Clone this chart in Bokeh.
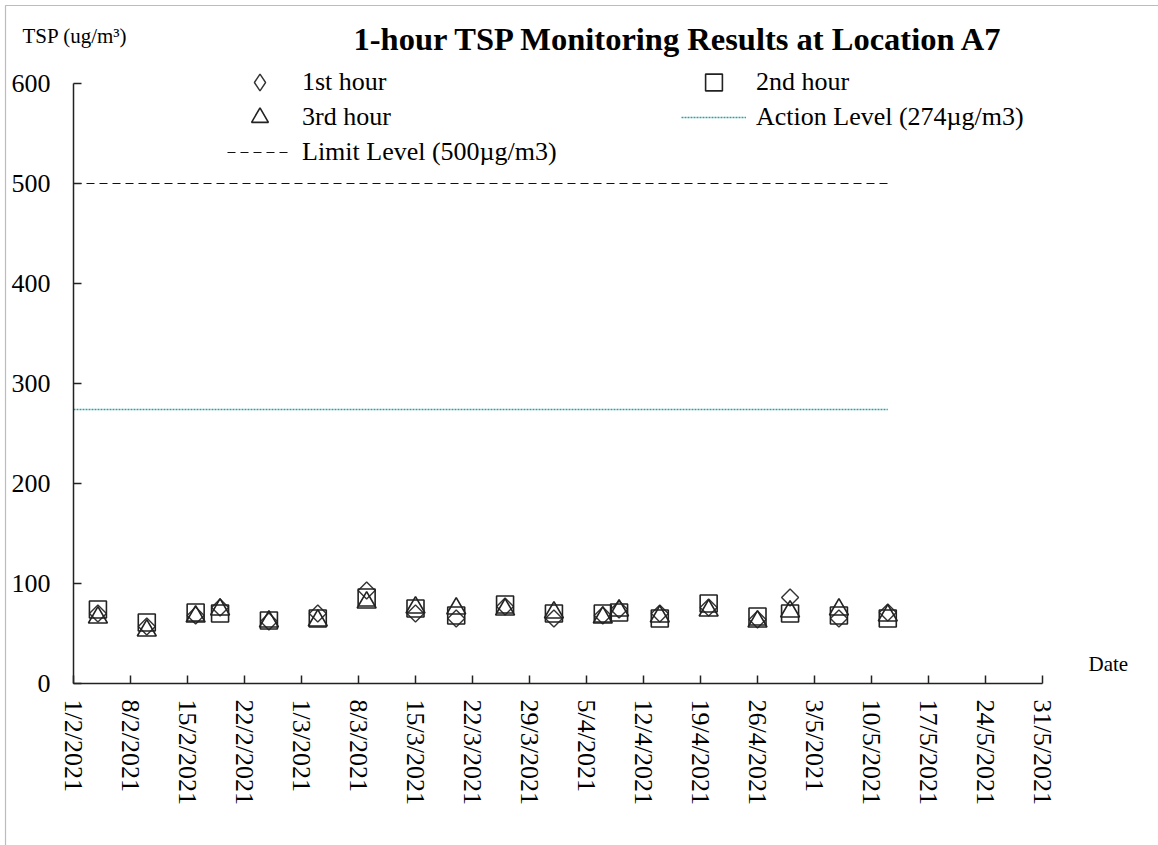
import math
from datetime import datetime, timedelta
from bokeh.plotting import figure
from bokeh.models import (Range1d, FixedTicker, DatetimeTickFormatter, Legend, LegendItem,
                          Label, ColumnDataSource, BoxAnnotation)
from bokeh.embed import file_html
from bokeh.resources import INLINE

# ---- data ----
dates = ["2021-02-04", "2021-02-10", "2021-02-16", "2021-02-19", "2021-02-25",
         "2021-03-03", "2021-03-09", "2021-03-15", "2021-03-20", "2021-03-26",
         "2021-04-01", "2021-04-07", "2021-04-09", "2021-04-14", "2021-04-20",
         "2021-04-26", "2021-04-30", "2021-05-06", "2021-05-12"]
hour1 = [70, 57, 68, 76, 62, 70, 93, 70, 65, 77, 65, 68, 74, 70, 76, 64, 86, 65, 71]
hour2 = [74, 61, 71, 70, 63, 65, 86, 75, 68, 79, 70, 70, 71, 65, 80, 67, 70, 68, 65]
hour3 = [66, 53, 67, 74, 62, 63, 81, 76, 75, 74, 71, 66, 73, 67, 73, 62, 72, 74, 68]

level_dates = ["2021-02-01", "2021-05-12"]
limit_level = [500, 500]
action_level = [274, 274]

tick_dates = ["2021-02-01", "2021-02-08", "2021-02-15", "2021-02-22", "2021-03-01",
              "2021-03-08", "2021-03-15", "2021-03-22", "2021-03-29", "2021-04-05",
              "2021-04-12", "2021-04-19", "2021-04-26", "2021-05-03", "2021-05-10",
              "2021-05-17", "2021-05-24", "2021-05-31"]
tick_labels = ["1/2/2021", "8/2/2021", "15/2/2021", "22/2/2021", "1/3/2021", "8/3/2021",
               "15/3/2021", "22/3/2021", "29/3/2021", "5/4/2021", "12/4/2021", "19/4/2021",
               "26/4/2021", "3/5/2021", "10/5/2021", "17/5/2021", "24/5/2021", "31/5/2021"]
y_ticks = [0, 100, 200, 300, 400, 500, 600]

FONT = "Liberation Serif"
W, H = 1158, 845


def to_dt(s):
    return datetime.strptime(s, "%Y-%m-%d")


def to_ms(s):
    return (to_dt(s) - datetime(1970, 1, 1)).total_seconds() * 1000.0


# layout of the axes box inside the page (pixels)
ax_left, ax_right, ax_bottom, ax_top = 73, 1042, 683, 83
d0, d1 = to_dt(tick_dates[0]), to_dt(tick_dates[-1])
px_per_day = (ax_right - ax_left) / (d1 - d0).days
px_per_unit = (ax_bottom - ax_top) / y_ticks[-1]
x_start = d0 - timedelta(days=ax_left / px_per_day)
x_end = d0 + timedelta(days=(W - ax_left) / px_per_day)
y_start = -(H - ax_bottom) / px_per_unit
y_end = ax_bottom / px_per_unit

x = [to_dt(d) for d in dates]
src = ColumnDataSource(dict(x=x, h1=hour1, h2=hour2, h3=hour3))
lsrc = ColumnDataSource(dict(x=[to_dt(d) for d in level_dates], lim=limit_level, act=action_level))

p = figure(x_axis_type="datetime", output_backend="svg", toolbar_location=None,
           width=W, height=H, min_border=0,
           x_range=Range1d(x_start, x_end), y_range=Range1d(y_start, y_end))
p.outline_line_color = None
p.xgrid.visible = False
p.ygrid.visible = False
p.background_fill_color = "white"
p.border_fill_color = "white"

# outer chart-area border (left and top edges visible)
p.add_layout(BoxAnnotation(left=5, right=W + 50, top=H - 5, bottom=-50,
                           left_units="screen", right_units="screen",
                           top_units="screen", bottom_units="screen",
                           fill_alpha=0, line_color="#222222", line_width=1.2))

# axes
xa = p.xaxis[0]
xa.fixed_location = 0
xa.bounds = (to_ms(tick_dates[0]), to_ms(tick_dates[-1]))
xa.ticker = FixedTicker(ticks=[to_ms(d) for d in tick_dates])
xa.formatter = DatetimeTickFormatter(days="%-d/%-m/%Y", months="%-d/%-m/%Y", years="%-d/%-m/%Y")
xa.major_label_overrides = {to_ms(d): lab for d, lab in zip(tick_dates, tick_labels)}
xa.major_label_orientation = -math.pi / 2
xa.major_label_text_font = FONT
xa.major_label_text_font_size = "26px"
xa.major_label_text_color = "black"
xa.major_tick_in = 8
xa.major_tick_out = 0
xa.minor_tick_line_color = None
xa.axis_line_width = 1.5
xa.axis_line_color = "#222222"
xa.major_tick_line_color = "#222222"
xa.major_tick_line_width = 1.5
xa.major_label_standoff = 16

ya = p.yaxis[0]
ya.fixed_location = to_ms(tick_dates[0])
ya.bounds = (y_ticks[0], y_ticks[-1])
ya.ticker = FixedTicker(ticks=y_ticks)
ya.major_label_text_font = FONT
ya.major_label_text_font_size = "26px"
ya.major_label_text_color = "black"
ya.major_tick_in = 8
ya.major_tick_out = 0
ya.minor_tick_line_color = None
ya.axis_line_width = 1.5
ya.axis_line_color = "#222222"
ya.major_tick_line_color = "#222222"
ya.major_tick_line_width = 1.5
ya.major_label_standoff = 23

# level lines
r_lim = p.line("x", "lim", source=lsrc, line_color="#111111", line_width=1.2, line_dash="8 5")
r_act = p.line("x", "act", source=lsrc, line_color="#2e9ea6", line_width=1.3, line_dash="2 1")

# markers
r1 = p.scatter("x", "h1", source=src, marker="square", size=12, angle=math.pi / 4,
               fill_color=None, line_color="#333333", line_width=1.4)
r2 = p.scatter("x", "h2", source=src, marker="square", size=17,
               fill_color=None, line_color="#222222", line_width=1.6)
r3 = p.scatter("x", "h3", source=src, marker="triangle", size=19,
               fill_color=None, line_color="#222222", line_width=1.6)
# legend key for the 1st-hour diamonds (not drawn in the plot: y is NaN)
r1_key = p.scatter(x=[d0], y=[float("nan")], marker="diamond", size=18,
                   fill_color=None, line_color="#333333", line_width=1.4)

leg_common = dict(padding=0, margin=0, spacing=0, glyph_width=65, glyph_height=42,
                  label_height=42, label_standoff=10, border_line_color=None,
                  background_fill_alpha=0, label_text_font=FONT,
                  label_text_font_size="26px", label_text_color="black")

legend_rows = [
    ("1st hour", r1_key, 227, 82),
    ("2nd hour", r2, 681, 82),
    ("3rd hour", r3, 227, 117),
    ("Action Level (274\u00b5g/m3)", r_act, 681, 117),
    ("Limit Level (500\u00b5g/m3)", r_lim, 227, 152),
]
for lab, rend, lx, cy in legend_rows:
    p.add_layout(Legend(items=[LegendItem(label=lab, renderers=[rend])],
                        location=(lx, H - (cy + 21)), **leg_common))

# texts
p.add_layout(Label(x=353, y=H - 38, x_units="screen", y_units="screen",
                   text="1-hour TSP Monitoring Results at Location A7",
                   text_font=FONT, text_font_size="32.5px", text_font_style="bold",
                   text_baseline="middle", text_color="black"))
p.add_layout(Label(x=22, y=H - 35, x_units="screen", y_units="screen",
                   text="TSP (ug/m\u00b3)", text_font=FONT, text_font_size="21px",
                   text_baseline="middle", text_color="black"))
p.add_layout(Label(x=1088, y=H - 663, x_units="screen", y_units="screen",
                   text="Date", text_font=FONT, text_font_size="21px",
                   text_baseline="middle", text_color="black"))

open("out.html", "w").write(file_html(p, INLINE))
